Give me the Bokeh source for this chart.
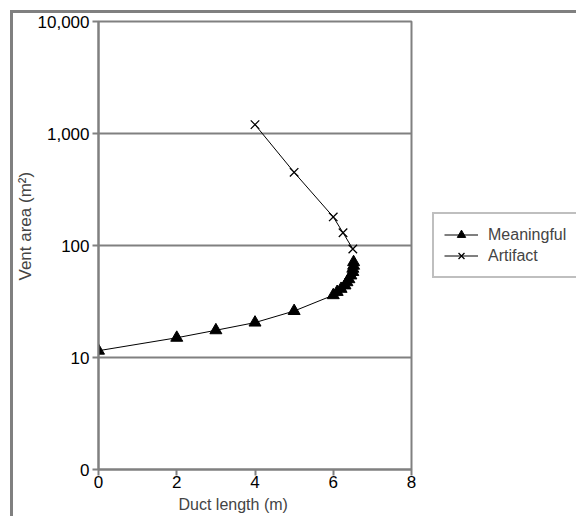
from bokeh.plotting import figure
from bokeh.models import (FixedTicker, Legend, LegendItem, Title, Range1d, InlineStyleSheet)
from bokeh.embed import file_html
from bokeh.resources import INLINE

# Data
meaningful_x = [0, 2, 3, 4, 5, 6, 6.1, 6.2, 6.3, 6.35, 6.4, 6.45, 6.5, 6.5, 6.52, 6.52]
meaningful_y = [11.5, 15, 17.5, 20.5, 26, 36, 38.5, 41, 44, 47, 50, 54, 58, 62, 66, 71]
artifact_x = [4, 5, 6, 6.25, 6.5]
artifact_y = [1200, 450, 180, 130, 93]

y_ticks = [1, 10, 100, 1000, 10000]
y_tick_labels = ["0", "10", "100", "1,000", "10,000"]
x_ticks = [0, 2, 4, 6, 8]

FONT = "Liberation Sans"
GRAY = "#808080"

p = figure(frame_width=313, frame_height=448, y_axis_type="log",
           x_range=Range1d(0, 8), y_range=Range1d(1, 10000),
           output_backend="svg", toolbar_location=None,
           min_border_left=83, min_border_right=0,
           min_border_top=8, min_border_bottom=0)
p.margin = (10, 0, 0, 10)
p.stylesheets = [InlineStyleSheet(css=":host { border-left: 3px solid #808080; border-top: 3px solid #808080; }")]

p.outline_line_color = GRAY
p.outline_line_width = 2
p.xgrid.visible = False
p.ygrid.ticker = FixedTicker(ticks=y_ticks)
p.ygrid.grid_line_color = GRAY
p.ygrid.grid_line_width = 2

p.yaxis.ticker = FixedTicker(ticks=y_ticks)
p.yaxis.major_label_overrides = {t: l for t, l in zip(y_ticks, y_tick_labels)}
p.xaxis.ticker = FixedTicker(ticks=x_ticks)

for ax in (p.xaxis[0], p.yaxis[0]):
    ax.axis_line_color = GRAY
    ax.axis_line_width = 2
    ax.major_tick_line_color = GRAY
    ax.major_tick_line_width = 2
    ax.major_tick_out = 6
    ax.major_tick_in = 0
    ax.minor_tick_line_color = None
    ax.major_label_text_font = FONT
    ax.major_label_text_font_size = "17px"
    ax.major_label_text_color = "black"
p.yaxis.major_label_standoff = 3
p.xaxis.major_label_standoff = 0

l1 = p.line(meaningful_x, meaningful_y, line_color="black", line_width=1)
s1 = p.scatter(meaningful_x, meaningful_y, marker="triangle", size=12,
               fill_color="black", line_color="black")
l2 = p.line(artifact_x, artifact_y, line_color="black", line_width=1)
s2 = p.scatter(artifact_x, artifact_y, marker="x", size=12,
               line_color="black", line_width=1.3)

legend = Legend(items=[LegendItem(label="Meaningful", renderers=[l1, s1]),
                       LegendItem(label="Artifact", renderers=[l2, s2])],
                location=(21, 191))
legend.label_text_font = FONT
legend.label_text_font_size = "16px"
legend.border_line_color = GRAY
legend.border_line_width = 2
legend.glyph_width = 34
legend.glyph_height = 21
legend.spacing = 0
legend.padding = 10
legend.margin = 0
legend.label_standoff = 10
legend.background_fill_alpha = 1
p.add_layout(legend, "right")

ytitle = Title(text="Vent area (m²)", align="left", offset=189, standoff=0,
               text_font=FONT, text_font_size="17px", text_font_style="normal")
p.add_layout(ytitle, "left")
xtitle = Title(text="Duct length (m)", align="left", offset=80, standoff=7,
               text_font=FONT, text_font_size="16px", text_font_style="normal")
p.add_layout(xtitle, "below")

open("out.html", "w").write(file_html(p, INLINE))
